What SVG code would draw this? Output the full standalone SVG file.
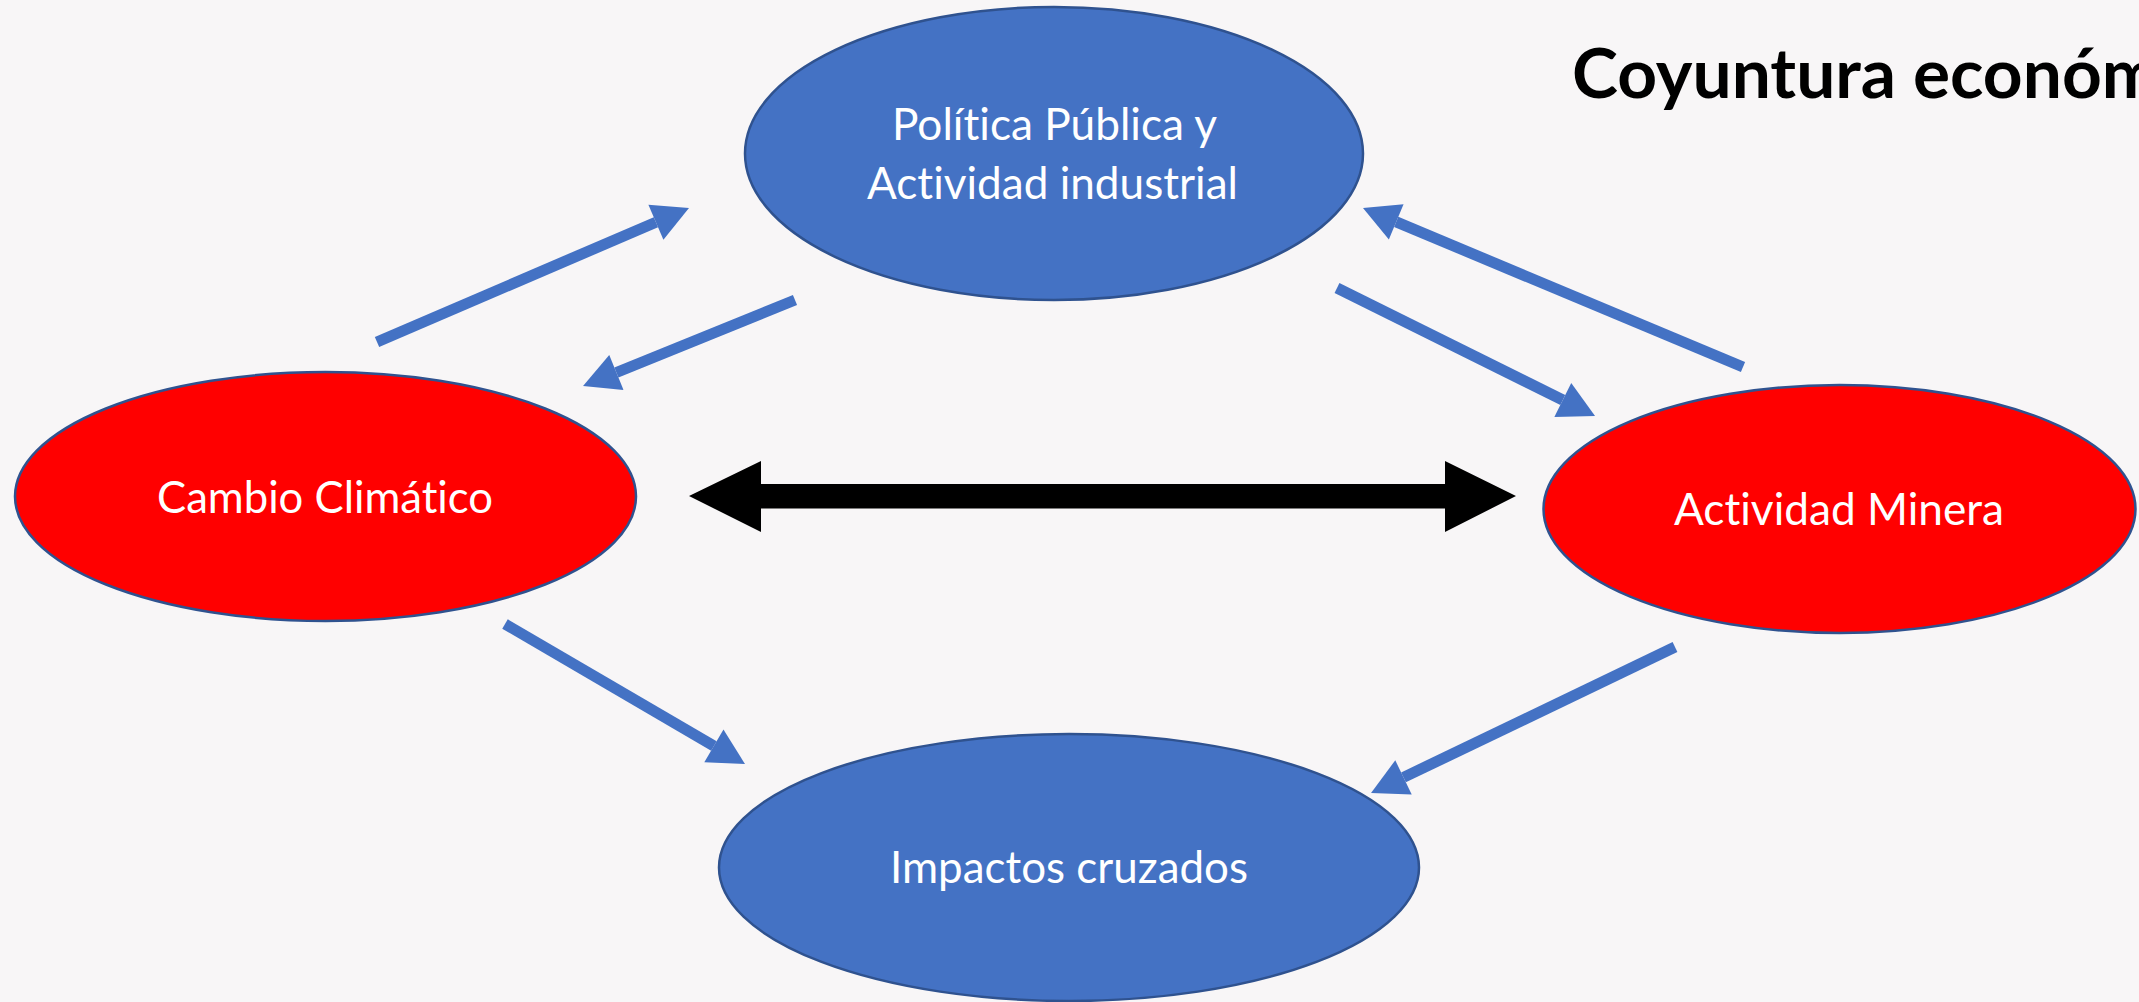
<svg xmlns="http://www.w3.org/2000/svg" width="2139" height="1002" viewBox="0 0 2139 1002">
  <style>
    .node { stroke: #2F528F; stroke-width: 2.5; }
    .blue { fill: #4472C4; }
    .red { fill: #FF0000; }
    .label { font-family: Lato, "Open Sans", "Liberation Sans", sans-serif; font-size: 44px; fill: #FFFFFF; text-anchor: middle; font-variant-ligatures: none; font-feature-settings: "liga" 0, "clig" 0; }
    .title { font-family: Lato, "Open Sans", "Liberation Sans", sans-serif; font-size: 68px; font-weight: bold; fill: #000000; font-variant-ligatures: none; }
    .conn { stroke: #4472C4; stroke-width: 11; fill: none; marker-end: url(#head); }
  </style>
  <defs>
    <marker id="head" markerUnits="userSpaceOnUse" markerWidth="38" markerHeight="38" refX="0" refY="19" orient="auto" overflow="visible">
      <path d="M0,0 L36,19 L0,38 Z" fill="#4472C4"/>
    </marker>
  </defs>
  <rect x="0" y="0" width="2139" height="1002" fill="#F8F6F7"/>

  <text class="title" x="1572" y="98" textLength="588" lengthAdjust="spacingAndGlyphs">Coyuntura económ</text>

  <g id="connectors">
    <line class="conn" x1="377" y1="342" x2="655.9" y2="222.2"/>
    <line class="conn" x1="795" y1="300" x2="616.4" y2="372.5"/>
    <line class="conn" x1="1743" y1="367" x2="1396.2" y2="221.9"/>
    <line class="conn" x1="1337" y1="288" x2="1562.8" y2="400"/>
    <line class="conn" x1="505" y1="624" x2="713.9" y2="745.9"/>
    <line class="conn" x1="1675" y1="647" x2="1403.5" y2="777.4"/>
    <polygon id="double-arrow" fill="#000000" points="689,496 761,461 761,484 1445,484 1445,461 1516,496 1445,532 1445,508.5 761,508.5 761,532"/>
  </g>

  <g id="politica">
    <ellipse class="node blue" cx="1054" cy="153.5" rx="309" ry="146.5"/>
    <text class="label" x="1054.5" y="140" textLength="325" lengthAdjust="spacingAndGlyphs">Política Pública y</text>
    <text class="label" x="1052.5" y="199" textLength="371" lengthAdjust="spacingAndGlyphs">Actividad industrial</text>
  </g>

  <g id="cambio">
    <ellipse class="node red" cx="325.5" cy="496.5" rx="310.5" ry="124.5"/>
    <text class="label" x="325" y="513" textLength="336" lengthAdjust="spacingAndGlyphs">Cambio Climático</text>
  </g>

  <g id="minera">
    <ellipse class="node red" cx="1839.5" cy="509" rx="296" ry="124"/>
    <text class="label" x="1839" y="525" textLength="330" lengthAdjust="spacingAndGlyphs">Actividad Minera</text>
  </g>

  <g id="impactos">
    <ellipse class="node blue" cx="1069" cy="867.5" rx="350" ry="133.5"/>
    <text class="label" x="1069" y="883" textLength="358" lengthAdjust="spacingAndGlyphs">Impactos cruzados</text>
  </g>
</svg>
